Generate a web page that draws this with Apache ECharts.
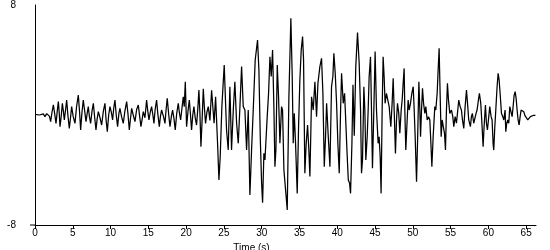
<!DOCTYPE html>
<html>
<head>
<meta charset="utf-8">
<script src="https://cdn.jsdelivr.net/npm/echarts@6/dist/echarts.min.js"></script>
<style>html,body{margin:0;padding:0;background:#fff}#c{width:550px;height:250px}</style>
</head>
<body>
<div id="c"></div>
<script>
var times = [0,0.6,1.10,1.32,1.55,1.76,1.92,2.07,2.25,2.43,2.6,2.78,2.95,3.09,3.2,3.31,3.45,3.62,3.75,3.88,4.05,4.19,4.35,4.54,4.7,4.85,5.05,5.29,5.5,5.73,5.9,6.04,6.2,6.39,6.55,6.75,6.9,7.05,7.2,7.36,7.55,7.72,7.9,8.07,8.22,8.38,8.6,8.82,9.05,9.26,9.4,9.57,9.75,9.92,10.1,10.27,10.42,10.58,10.75,10.93,11.1,11.24,11.45,11.68,11.9,12.13,12.3,12.48,12.65,12.79,13.0,13.23,13.45,13.67,13.85,14.02,14.18,14.33,14.55,14.77,14.92,15.08,15.25,15.43,15.6,15.74,15.9,16.09,16.25,16.45,16.6,16.75,17.0,17.2,17.35,17.5,17.7,17.86,18.05,18.21,18.4,18.56,18.75,18.96,19.1,19.27,19.45,19.62,19.75,19.89,20.06,20.25,20.42,20.58,20.72,20.88,21.03,21.2,21.38,21.55,21.69,21.82,21.96,22.12,22.27,22.42,22.57,22.75,22.93,23.15,
23.37,23.7,23.9,24.16,24.34,24.51,24.73,25.04,25.22,25.35,25.57,25.79,26.01,26.24,26.45,26.68,26.9,27.12,27.34,27.56,27.78,28.0,28.22,28.44,28.66,28.88,29.14,29.45,29.63,29.81,29.98,30.12,30.29,30.43,30.73,30.91,31.09,31.26,31.44,31.62,31.75,31.88,32.06,32.23,32.41,32.63,32.76,32.94,33.2,33.38,33.6,33.86,34.04,34.17,34.31,34.48,34.7,34.88,35.05,35.23,35.41,35.54,35.71,35.89,36.07,36.24,36.38,36.6,36.82,37.04,37.26,37.44,37.7,37.92,38.1,38.28,38.45,38.59,38.81,39.03,39.24,39.42,39.55,39.73,39.91,40.08,40.26,40.44,40.57,40.79,40.97,41.1,41.28,41.46,41.63,41.76,41.94,42.08,42.25,42.45,42.68,42.9,
43.08,43.21,43.34,43.52,43.65,43.78,43.96,44.09,44.22,44.4,44.53,44.66,44.84,45.01,45.19,45.41,45.54,45.68,45.8,45.94,46.07,46.2,46.33,46.51,46.69,46.87,47.09,47.26,47.4,47.57,47.7,47.84,47.97,48.14,48.28,48.46,48.59,48.72,48.85,48.94,49.07,49.25,49.38,49.52,49.69,49.87,50.05,50.18,50.31,50.49,50.62,50.8,50.93,51.02,51.15,51.28,51.42,51.59,51.72,51.9,52.08,52.25,52.39,52.52,52.69,52.91,53.04,53.22,53.35,53.48,53.61,53.75,53.88,54.01,54.19,54.32,54.45,54.58,54.72,54.89,55.11,55.29,55.42,55.6,55.77,55.95,56.08,56.26,56.43,56.57,56.74,56.92,57.1,57.27,57.4,57.62,57.75,57.88,58.06,58.2,58.37,58.5,58.68,58.81,58.99,59.12,59.3,59.43,59.61,59.74,59.87,60.05,60.18,60.36,60.49,60.62,60.71,60.85,60.98,61.15,61.29,61.42,61.55,61.73,61.9,62.04,62.21,62.3,62.43,62.57,62.7,62.83,63.01,63.14,63.27,63.41,63.54,63.67,63.8,63.93,64.07,64.2,64.33,64.51,64.68,64.86,65.03,65.21,65.39,65.56,65.78,66.0,66.22];

var accel = [0.05,0.0,0.08,-0.12,0.1,0.24,-0.1,-0.48,0.2,0.73,0.1,-0.61,0.3,0.97,0.2,-0.85,-0.2,0.85,0.3,-0.36,0.4,1.09,0.0,-0.97,-0.2,0.61,-0.1,-0.61,0.6,1.45,0.2,-1.09,0.1,1.09,0.4,-0.48,0.1,0.61,-0.1,-0.61,0.3,0.85,-0.2,-1.09,-0.3,0.24,-0.2,-0.73,0.3,0.85,-0.3,-1.21,0.0,0.61,0.2,-0.36,0.5,1.09,0.0,-0.85,0.1,0.48,-0.1,-0.61,0.3,0.97,0.1,-1.09,-0.2,0.48,0.0,-0.48,0.4,0.73,-0.1,-0.85,-0.3,0.24,-0.2,1.09,0.3,-0.36,0.2,0.61,0.0,-0.61,0.4,1.09,0.1,-0.85,-0.1,0.36,-0.1,-0.61,0.4,1.21,0.0,-0.85,-0.1,0.36,-0.3,-1.09,0.1,0.85,0.2,-0.36,0.5,1.33,0.6,2.42,-0.85,0.3,1.09,0.0,-1.09,0.0,0.61,-0.2,-0.73,0.5,1.82,0.2,-2.3,-0.3,1.9,0.5,-0.61,0.2,0.61,-0.4,
1.8,-0.6,1.33,-2.06,-4.73,-3.03,0.61,3.64,0.85,-1.09,-2.55,2.06,-2.55,0.36,2.42,-0.6,-2.06,0.61,3.52,0.61,0.36,-2.55,0.36,-5.82,-2.55,0.36,4.0,5.45,3.27,-1.58,-4.85,-6.38,-2.79,-3.27,-0.12,1.58,4.24,2.8,4.73,0.36,-3.76,-2.55,3.64,1.33,-2.06,0.61,0.36,-4.0,-5.7,-6.91,1.33,7.03,2.8,-2.06,0.12,-2.06,-5.7,-0.85,2.55,4.73,5.7,4.0,-4.24,-2.06,-0.73,-2.55,-4.48,1.33,0.36,2.42,-0.12,2.3,3.52,4.12,1.58,-3.76,-1.58,0.85,-1.58,-3.76,2.06,2.8,4.48,3.03,0.85,-2.06,-4.24,0.36,3.03,0.85,1.58,-0.12,-2.55,-4.73,-4.97,-5.7,-2.06,2.2,-1.5,3.5,5.99,3.76,
0.36,-4.24,-3.27,2.06,0.36,-3.27,-1.58,0.36,2.8,4.24,0.36,-3.88,0.36,4.61,0.36,-2.06,-1.58,-3.03,-5.7,0.36,4.24,2.8,0.85,1.58,1.09,0.61,-0.85,0.85,2.67,-0.36,-2.79,-0.36,0.85,0.12,-1.33,0.36,1.09,2.3,3.39,0.36,-2.55,-0.36,1.09,0.36,0.85,1.58,2.06,0.36,-1.58,-4.85,-2.06,2.42,0.36,-1.58,0.36,1.94,0.85,0.12,0.61,-0.36,-0.12,-0.36,-2.06,-3.76,-1.58,0.61,0.36,1.58,3.27,4.85,1.58,-1.58,-0.36,-0.36,-1.33,-2.55,0.36,2.3,1.09,0.12,0.36,-0.12,-0.85,-0.12,-0.6,0.36,1.09,0.61,0.36,-0.36,-0.97,0.61,1.82,0.61,-0.36,-0.85,-0.12,0.12,-0.6,-0.6,0.12,0.36,1.09,1.58,0.85,-0.36,-2.3,-0.85,0.73,-0.6,-1.09,-0.12,0.61,-0.12,-0.36,-2.06,-2.55,-0.85,0.36,2.06,3.03,2.55,1.58,0.12,-0.12,-0.36,0.36,-1.21,-0.6,-0.36,-0.6,0.61,0.73,-0.12,0.61,1.45,1.7,1.21,0.36,-0.36,-0.73,-0.12,0.36,0.41,0.24,-0.07,-0.17,-0.36,-0.24,-0.12,-0.07,-0.02,-0.02];

var xTicks = [0,5,10,15,20,25,30,35,40,45,50,55,60,65];
var yLabels = [-8, 8];

var seriesData = times.map(function (t, i) { return [t, accel[i]]; });

var font = "'Liberation Sans', Arial, sans-serif";
var chart = echarts.init(document.getElementById('c'), null, {renderer: 'canvas'});
chart.setOption({
  backgroundColor: '#ffffff',
  animation: false,
  grid: {left: 35, right: 14, top: 5, bottom: 25, containLabel: false, outerBoundsMode: 'none'},
  xAxis: {
    type: 'value', min: 0, max: 66.3, interval: 5,
    name: 'Time (s)', nameLocation: 'middle', nameGap: 15,
    nameTextStyle: {color: '#000', fontFamily: font, fontSize: 10, padding: [0, 68, 0, 0]},
    axisLine: {show: true, onZero: false, lineStyle: {color: '#000', width: 1}},
    axisTick: {show: true, length: 4, lineStyle: {color: '#000'}},
    axisLabel: {color: '#000', fontFamily: font, fontSize: 10, margin: 3,
      showMaxLabel: false,
      formatter: function (v) { return xTicks.indexOf(v) >= 0 ? String(v) : ''; }},
    splitLine: {show: false}
  },
  yAxis: {
    type: 'value', min: -8, max: 8, interval: 8,
    name: 'cm/s/s', nameLocation: 'middle', nameRotate: 90, nameGap: 23,
    nameTextStyle: {color: '#000', fontFamily: font, fontSize: 10},
    axisLine: {show: true, lineStyle: {color: '#000', width: 1}},
    axisTick: {show: false},
    axisLabel: {color: '#000', fontFamily: font, fontSize: 10, margin: 19,
      formatter: function (v) { return yLabels.indexOf(v) >= 0 ? String(v) : ''; }},
    splitLine: {show: false}
  },
  series: [{
    type: 'line', data: seriesData, showSymbol: false, symbol: 'none',
    lineStyle: {color: '#000', width: 1.25}, silent: true
  }]
});
var p = chart.convertToPixel({xAxisIndex: 0, yAxisIndex: 0}, [0, -8]);
chart.setOption({graphic: [{type: 'line', shape: {x1: p[0] - 5, y1: p[1], x2: p[0], y2: p[1]}, style: {stroke: '#000', lineWidth: 1}}]});
</script>
</body>
</html>
